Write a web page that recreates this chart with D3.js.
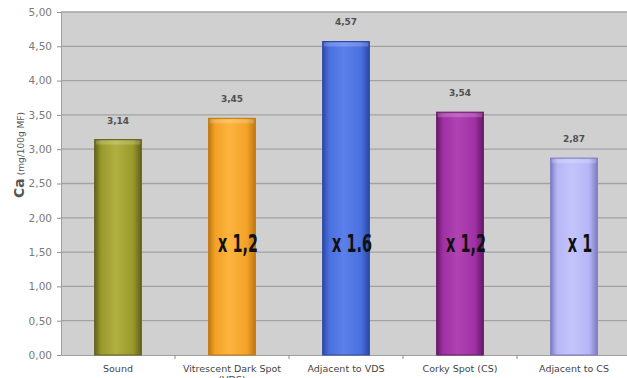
<!DOCTYPE html>
<html>
<head>
<meta charset="utf-8">
<script src="https://cdn.jsdelivr.net/npm/d3@7"></script>
<style>
  html, body { margin: 0; padding: 0; background: #ffffff; overflow: hidden; }
  svg { display: block; }
</style>
</head>
<body>
<svg id="chart" width="627" height="378"></svg>
<script>
// Calcium content per tissue class
const categories = ["Sound", "Vitrescent Dark Spot (VDS)", "Adjacent to VDS", "Corky Spot (CS)", "Adjacent to CS"];
const categoryLines = [["Sound"], ["Vitrescent Dark Spot", "(VDS)"], ["Adjacent to VDS"], ["Corky Spot (CS)"], ["Adjacent to CS"]];
const values = [3.14, 3.45, 4.57, 3.54, 2.87];
const valueLabels = ["3,14", "3,45", "4,57", "3,54", "2,87"];
const ratioLabels = ["", "x 1,2", "x 1.6", "x 1,2", "x 1"];
const yTicks = [0, 0.5, 1, 1.5, 2, 2.5, 3, 3.5, 4, 4.5, 5];
const yTickLabels = ["0,00", "0,50", "1,00", "1,50", "2,00", "2,50", "3,00", "3,50", "4,00", "4,50", "5,00"];

// bar palette: [edge, body, highlight]
const barColors = [
  ["#62621a", "#9a9a2c", "#b0b040"],
  ["#c07810", "#f2a228", "#fdb43e"],
  ["#2c48a4", "#4a70e0", "#5c80ea"],
  ["#661a68", "#a030a4", "#b043b2"],
  ["#7c7cc4", "#b6b6f6", "#c4c4fc"]
];

const svg = d3.select("#chart");
const plot = { left: 61, right: 631, top: 12, bottom: 355 };

const x = d3.scaleBand()
  .domain(categories)
  .range([plot.left, plot.right])
  .paddingInner(0.59)
  .paddingOuter(0.295);

const y = d3.scaleLinear().domain([0, 5]).range([plot.bottom, plot.top]);

// gradients giving the bars a rounded look
const defs = svg.append("defs");
barColors.forEach((c, i) => {
  const g = defs.append("linearGradient").attr("id", "bar" + i)
    .attr("x1", "0%").attr("x2", "100%").attr("y1", "0%").attr("y2", "0%");
  g.append("stop").attr("offset", "0%").attr("stop-color", c[0]);
  g.append("stop").attr("offset", "14%").attr("stop-color", c[1]);
  g.append("stop").attr("offset", "45%").attr("stop-color", c[2]);
  g.append("stop").attr("offset", "82%").attr("stop-color", c[1]);
  g.append("stop").attr("offset", "100%").attr("stop-color", c[0]);
});

// plot background
svg.append("rect")
  .attr("x", plot.left).attr("y", plot.top)
  .attr("width", plot.right - plot.left).attr("height", plot.bottom - plot.top)
  .attr("fill", "#d0d0d0");

// horizontal gridlines
svg.append("g")
  .selectAll("line")
  .data(yTicks.filter(d => d > 0))
  .join("line")
  .attr("x1", plot.left).attr("x2", plot.right)
  .attr("y1", d => y(d)).attr("y2", d => y(d))
  .attr("stroke", "#a2a2a2").attr("stroke-width", 1.3);

// y axis
const yAxis = svg.append("g")
  .attr("transform", `translate(${plot.left},0)`)
  .call(d3.axisLeft(y).tickValues(yTicks).tickSize(4).tickPadding(5)
    .tickFormat((d, i) => yTickLabels[i]));
yAxis.select(".domain").attr("stroke", "#a0a0a0");
yAxis.selectAll(".tick line").attr("stroke", "#909090");
yAxis.selectAll("text")
  .attr("fill", "#7a7a7a")
  .style("font-family", "'DejaVu Sans', sans-serif")
  .style("font-size", "10.5px");

// x axis
const xAxis = svg.append("g")
  .attr("transform", `translate(0,${plot.bottom})`)
  .call(d3.axisBottom(x).tickSize(0).tickFormat(""));
xAxis.select(".domain").attr("stroke", "#a0a0a0");
// category separators
svg.append("g")
  .selectAll("line")
  .data(categories.slice(1))
  .join("line")
  .attr("x1", d => x(d) - x.step() * x.paddingInner() / 2)
  .attr("x2", d => x(d) - x.step() * x.paddingInner() / 2)
  .attr("y1", plot.bottom).attr("y2", plot.bottom + 4)
  .attr("stroke", "#909090");

// category labels
const catG = svg.append("g");
categories.forEach((c, i) => {
  const t = catG.append("text")
    .attr("x", x(c) + x.bandwidth() / 2)
    .attr("y", 372)
    .attr("text-anchor", "middle")
    .attr("fill", "#454545")
    .style("font-family", "'DejaVu Sans', sans-serif")
    .style("font-size", "9.5px");
  categoryLines[i].forEach((line, j) => {
    t.append("tspan")
      .attr("x", x(c) + x.bandwidth() / 2)
      .attr("dy", j === 0 ? 0 : 11)
      .text(line);
  });
});

// bars
const bars = svg.append("g");
bars.selectAll("rect.bar")
  .data(values)
  .join("rect")
  .attr("class", "bar")
  .attr("x", (d, i) => x(categories[i]))
  .attr("y", d => y(d))
  .attr("width", x.bandwidth())
  .attr("height", d => y(0) - y(d))
  .attr("fill", (d, i) => `url(#bar${i})`)
  .attr("stroke", (d, i) => barColors[i][0])
  .attr("stroke-width", 1);

// lighter cap at the top of each bar
bars.selectAll("rect.cap")
  .data(values)
  .join("rect")
  .attr("class", "cap")
  .attr("x", (d, i) => x(categories[i]) + 1)
  .attr("y", d => y(d) + 1)
  .attr("width", x.bandwidth() - 2)
  .attr("height", 4)
  .attr("fill", "#ffffff")
  .attr("opacity", 0.2);

// value labels
svg.append("g")
  .selectAll("text")
  .data(values)
  .join("text")
  .attr("x", (d, i) => x(categories[i]) + x.bandwidth() / 2)
  .attr("y", d => y(d) - 16)
  .attr("text-anchor", "middle")
  .attr("fill", "#505050")
  .style("font-family", "'DejaVu Sans', sans-serif")
  .style("font-size", "9px")
  .style("font-weight", "bold")
  .text((d, i) => valueLabels[i]);

// ratio annotations, in a narrow heavy face
svg.append("g")
  .selectAll("text")
  .data(ratioLabels)
  .join("text")
  .attr("transform", (d, i) => `translate(${x(categories[i]) + x.bandwidth() / 2 + 6},252) scale(0.6,1)`)
  .attr("text-anchor", "middle")
  .attr("fill", "#111111")
  .style("font-family", "'DejaVu Sans', sans-serif")
  .style("font-size", "24px")
  .style("font-weight", "bold")
  .text(d => d);

// y axis title
const title = svg.append("text")
  .attr("transform", `translate(24,155) rotate(-90)`)
  .attr("text-anchor", "middle")
  .attr("fill", "#555555")
  .style("font-family", "'DejaVu Sans', sans-serif");
title.append("tspan").style("font-size", "14px").style("font-weight", "bold").text("Ca");
title.append("tspan").style("font-size", "9px").text(" (mg/100g MF)");
</script>
</body>
</html>
